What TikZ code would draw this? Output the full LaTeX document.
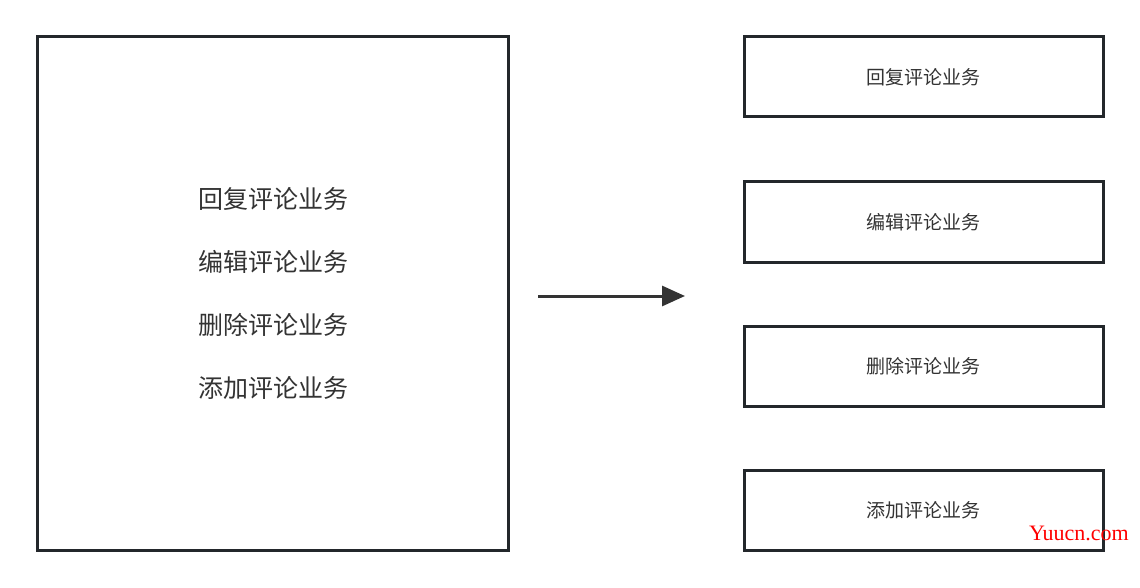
\documentclass[tikz,border=0pt]{standalone}
\usepackage{fontspec}
\setmainfont{Noto Sans CJK SC}
\newfontfamily\markfont{Liberation Serif}
\usetikzlibrary{arrows.meta}
\definecolor{boxline}{HTML}{23272B}
\definecolor{txt}{HTML}{333333}
\tikzset{
  bigbox/.style={draw=boxline, line width=3pt, minimum width=471pt, minimum height=513pt, inner sep=0pt},
  taskbox/.style={draw=boxline, line width=3pt, minimum width=359pt, minimum height=80pt, inner sep=0pt,
    text=txt, font=\fontsize{19pt}{22pt}\selectfont},
  bigtext/.style={text=txt, font=\fontsize{25pt}{30pt}\selectfont, inner sep=0pt}
}
\begin{document}
\begin{tikzpicture}[x=1pt,y=-1pt]
  \useasboundingbox (0,0) rectangle (1140,588);

  % left: all comment tasks in one box
  \node[bigbox] (all) at (272.5,293.5) {};
  \node[bigtext] (t1) at (273,199) {回复评论业务};
  \node[bigtext] (t2) at (273,262) {编辑评论业务};
  \node[bigtext] (t3) at (273,325) {删除评论业务};
  \node[bigtext] (t4) at (273,388) {添加评论业务};

  % right: one box per task
  \node[taskbox] (reply) at (923.5,77) {回复评论业务};
  \node[taskbox] (edit) at (923.5,222) {编辑评论业务};
  \node[taskbox] (del) at (923.5,366.5) {删除评论业务};
  \node[taskbox] (add) at (923.5,510) {添加评论业务};

  % arrow
  \coordinate (from) at (538,296);
  \coordinate (to) at (685,296);
  \draw[line width=3pt, draw=txt, -{Triangle[length=23pt, width=20pt]}] (from) -- (to);

  % watermark
  \node[text=red, font=\markfont\fontsize{22pt}{26pt}\selectfont, inner sep=0pt] (mark) at (1079,533) {Yuucn.com};
\end{tikzpicture}
\end{document}
